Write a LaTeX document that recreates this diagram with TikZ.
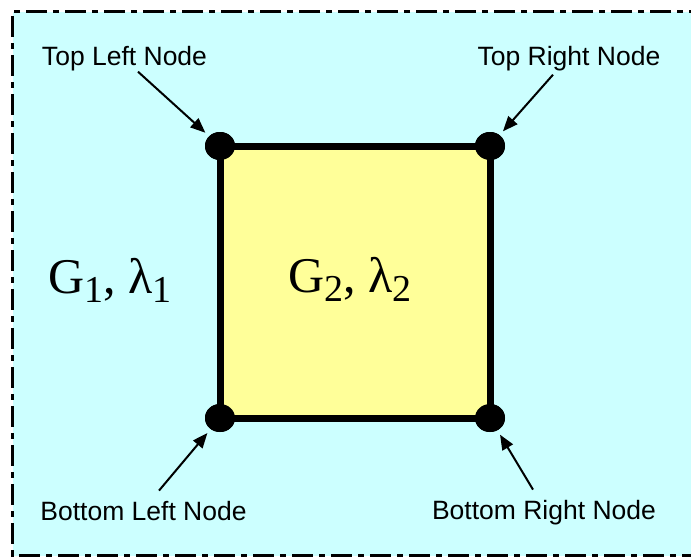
\documentclass[tikz,border=0pt]{standalone}
\usepackage{fontspec}
\setmainfont{Liberation Sans}
\newfontfamily\serifg{Liberation Serif}
\usetikzlibrary{arrows.meta,shapes.geometric}
\definecolor{bgcyan}{RGB}{204,255,255}
\definecolor{sqyellow}{RGB}{255,255,153}
\tikzset{
  corner/.style={ellipse,fill=black,minimum width=30pt,minimum height=28pt,inner sep=0pt},
  lbl/.style={font=\fontsize{26.5}{30}\selectfont,inner sep=0pt,anchor=base},
  ptr/.style={-{Triangle[length=15pt,width=12pt]},line width=2pt,shorten >=5pt},
  mat/.style={font=\serifg\fontsize{50}{60}\selectfont,inner sep=0pt,anchor=base west},
  frame/.style={line width=3pt,dash pattern=on 21pt off 6pt on 6pt off 6pt}
}
\newcommand{\subs}[1]{\raisebox{-9pt}{\fontsize{38}{40}\selectfont #1}}
\begin{document}
\begin{tikzpicture}[x=1pt,y=-1pt]
\useasboundingbox (0,0) rectangle (691,557);
\clip (0,0) rectangle (691,557);
\fill[bgcyan] (12.5,11.5) rectangle (710,555.5);
\draw[frame] (710,11.5) -- (12.5,11.5) -- (12.5,555.5) -- (710,555.5);
% corners
\node[corner] (tl) at (220,146) {};
\node[corner] (tr) at (490,146) {};
\node[corner] (br) at (490,418) {};
\node[corner] (bl) at (220,418) {};
\fill[sqyellow] (tl.center) rectangle (br.center);
\draw[line width=7pt] (tl.center) -- (tr.center) -- (br.center) -- (bl.center) -- cycle;
\node[corner] at (tl) {};
\node[corner] at (tr) {};
\node[corner] at (br) {};
\node[corner] at (bl) {};
% labels
\node[lbl] (tll) at (124.5,65) {Top Left Node};
\node[lbl] (trl) at (569,65) {Top Right Node};
\node[lbl] (bll) at (143.5,520) {Bottom Left Node};
\node[lbl] (brl) at (544,519) {Bottom Right Node};
\draw[ptr] ([xshift=13.5pt,yshift=-1pt]tll.south) -- (tl);
\draw[ptr] ([xshift=-16pt,yshift=-4pt]trl.south) -- (tr);
\draw[ptr] ([xshift=15.5pt,yshift=10pt]bll.north) -- (bl);
\draw[ptr] ([xshift=-11pt,yshift=10pt]brl.north) -- (br);
% materials
\node[mat] (m1) at (48,293) {G\subs{1}, λ\subs{1}};
\node[mat] (m2) at (288,292) {G\subs{2}, λ\subs{2}};
\end{tikzpicture}
\end{document}
